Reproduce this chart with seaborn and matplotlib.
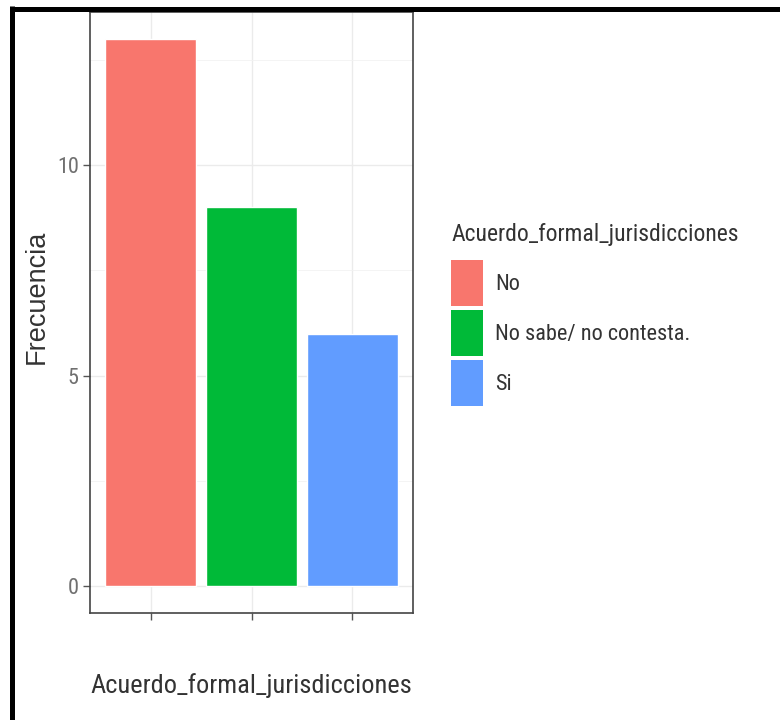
import matplotlib
matplotlib.use("Agg")
import matplotlib.pyplot as plt
import seaborn as sns
import pandas as pd
from matplotlib.patches import Patch
from matplotlib.lines import Line2D
from matplotlib.ticker import MultipleLocator

categories = ["No", "No sabe/ no contesta.", "Si"]
frecuencia = [13, 9, 6]
colors = ["#F8766D", "#00BA38", "#619CFF"]
y_ticks = [0, 5, 10]

sns.set_theme(style="white")
narrow = ["Roboto Condensed", "DejaVu Sans"]
regular = ["Liberation Sans", "Arimo", "Roboto", "DejaVu Sans"]
plt.rcParams["font.family"] = narrow

df = pd.DataFrame({"cat": categories, "val": frecuencia})

fig = plt.figure(figsize=(7.8, 7.2), dpi=100)
ax = fig.add_axes([90 / 780, 1 - 613 / 720, (413 - 90) / 780, (613 - 12) / 720])

sns.barplot(data=df, x="cat", y="val", hue="cat", palette=colors, width=0.9,
            dodge=False, legend=False, ax=ax, saturation=1, zorder=3)

ax.set_xlim(-0.6, 2.6)
ax.set_ylim(-0.65, 13.65)
ax.set_yticks(y_ticks)
ax.set_yticklabels([str(v) for v in y_ticks], fontsize=16, color="#707070", family=narrow)
ax.yaxis.set_minor_locator(MultipleLocator(2.5))
ax.set_xticks(range(len(categories)))
ax.set_xticklabels([""] * len(categories))
ax.grid(True, which="major", color="#EBEBEB", linewidth=1.0, zorder=0)
ax.grid(True, which="minor", axis="y", color="#F2F2F2", linewidth=0.6, zorder=0)
ax.set_axisbelow(True)
ax.tick_params(axis="both", which="major", length=5, width=1, color="#555555",
               left=True, bottom=True, pad=3)
ax.tick_params(axis="y", which="minor", length=0)
for sp in ax.spines.values():
    sp.set_visible(True)
    sp.set_color("#444444")
    sp.set_linewidth(1.2)

ax.set_ylabel("Frecuencia", fontsize=19.5, color="#333333", family=regular)
ax.yaxis.set_label_coords(-0.124, 0.526)
ax.set_xlabel("Acuerdo_formal_jurisdicciones", fontsize=19, color="#333333",
              family=narrow, labelpad=35)

handles = [Patch(facecolor=c, edgecolor="none") for c in colors]
leg = fig.legend(handles, categories, title="Acuerdo_formal_jurisdicciones",
                 loc="upper left", bbox_to_anchor=(431 / 780, 1 - 203 / 720),
                 frameon=False, fontsize=16, title_fontsize=17,
                 handlelength=1.45, handleheight=2.85, handletextpad=0.55,
                 labelspacing=0.15, alignment="left")
leg._legend_box.sep = 10
for t in leg.get_texts():
    t.set_color("#333333")
leg.get_title().set_color("#333333")

# black frame lines (top and left) of the screenshot
fig.add_artist(Line2D([10 / 780, 1], [1 - 8.5 / 720, 1 - 8.5 / 720], color="black",
                      linewidth=3.6, solid_capstyle="butt", transform=fig.transFigure))
fig.add_artist(Line2D([12.5 / 780, 12.5 / 780], [0, 1 - 6 / 720], color="black",
                      linewidth=3.6, solid_capstyle="butt", transform=fig.transFigure))

fig.savefig("out.png", dpi=100, facecolor="white")
